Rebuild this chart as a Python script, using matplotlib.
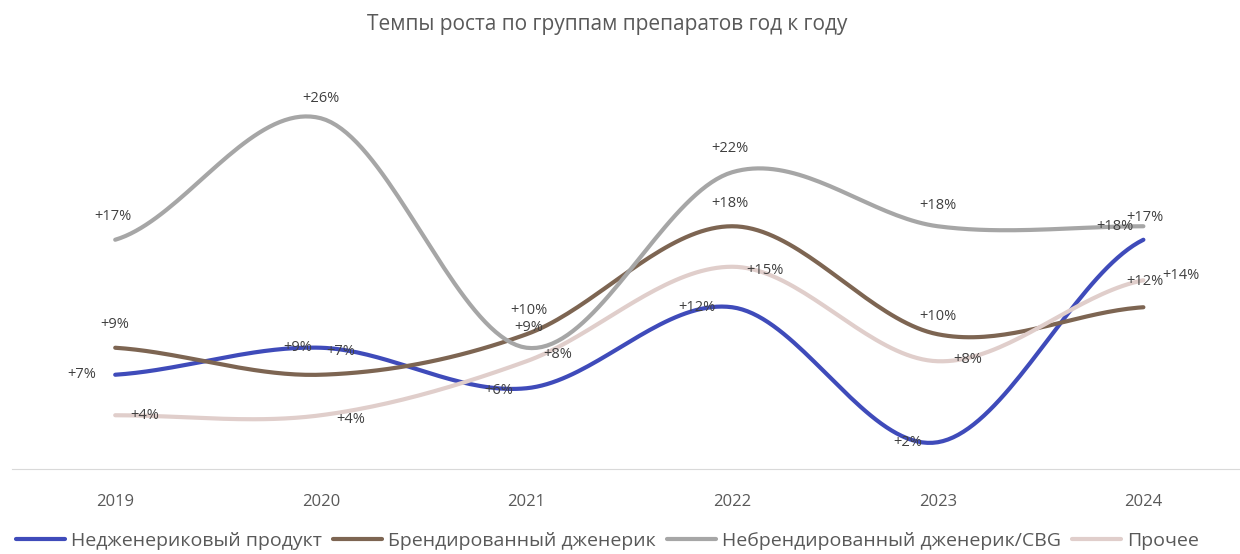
import numpy as np
import matplotlib.pyplot as plt

plt.rcParams['font.family'] = ['Open Sans', 'DejaVu Sans']

years = ['2019', '2020', '2021', '2022', '2023', '2024']
series_names = ['Недженериковый продукт', 'Брендированный дженерик',
                'Небрендированный дженерик/CBG', 'Прочее']
nongeneric = [7, 9, 6, 12, 2, 17]
branded = [9, 7, 10, 18, 10, 12]
unbranded = [17, 26, 9, 22, 18, 18]
other = [4, 4, 8, 15, 8, 14]

colors = ['#3F4BBA', '#7D6552', '#A6A6A6', '#E0CECB']
# label offsets in pixels (dx, dy) for each point, mimicking Excel placement
offsets = [
    [(-33, 0), (-23, 0), (-28, -2), (-35, 0), (-30, 0), (2, 22)],
    [(0, 23), (20, 23), (2, 24), (-2, 23), (0, 18), (2, 26)],
    [(-2, 23), (0, 20), (2, 20), (-2, 24), (0, 21), (-28, 0)],
    [(30, 0), (30, -4), (31, 7), (33, -4), (30, 2), (38, 5)],
]


def smooth(y, n=40):
    # Excel-like smoothed line (Catmull-Rom through the points)
    y = np.asarray(y, float)
    p = np.concatenate([[y[0]], y, [y[-1]]])
    xs, ys = [], []
    for i in range(len(y) - 1):
        p0, p1, p2, p3 = p[i], p[i + 1], p[i + 2], p[i + 3]
        t = np.linspace(0, 1, n, endpoint=False)
        c1 = p1 + (p2 - p0) / 6
        c2 = p2 - (p3 - p1) / 6
        yy = (1 - t) ** 3 * p1 + 3 * (1 - t) ** 2 * t * c1 + 3 * (1 - t) * t ** 2 * c2 + t ** 3 * p2
        xs.append(i + t)
        ys.append(yy)
    xs.append([len(y) - 1])
    ys.append([y[-1]])
    return np.concatenate(xs), np.concatenate(ys)


fig = plt.figure(figsize=(12.4, 5.54), dpi=100)
ax = fig.add_axes([0.01, 0.153, 0.995, 0.731])

all_series = [nongeneric, branded, unbranded, other]
x = np.arange(len(years))
for name, vals, col, offs in zip(series_names, all_series, colors, offsets):
    sx, sy = smooth(vals)
    ax.plot(sx, sy, color=col, lw=3, solid_capstyle='round', label=name)
    for xi, v, (dx, dy) in zip(x, vals, offs):
        ax.annotate(f'+{v}%', (xi, v), xytext=(dx, dy), textcoords='offset pixels',
                    ha='center', va='center', fontsize=10.5, color='#404040')

ax.set_xlim(-0.5, 5.5)
ax.set_ylim(0, 30)
ax.set_xticks(x)
ax.set_xticklabels(years, fontsize=12, color='#595959')
ax.tick_params(axis='x', length=0, pad=18)
ax.set_yticks([])
for s in ['top', 'left', 'right']:
    ax.spines[s].set_visible(False)
ax.spines['bottom'].set_color('#D9D9D9')

fig.text(0.49, 0.955, 'Темпы роста по группам препаратов год к году',
         ha='center', va='center', fontsize=15, color='#595959')

fig.legend(loc='center', bbox_to_anchor=(0.49, 0.023), ncol=4, frameon=False,
           fontsize=14, labelcolor='#595959', handlelength=2.5,
           handletextpad=0.3, columnspacing=0.6)

fig.savefig('out.png', dpi=100)
